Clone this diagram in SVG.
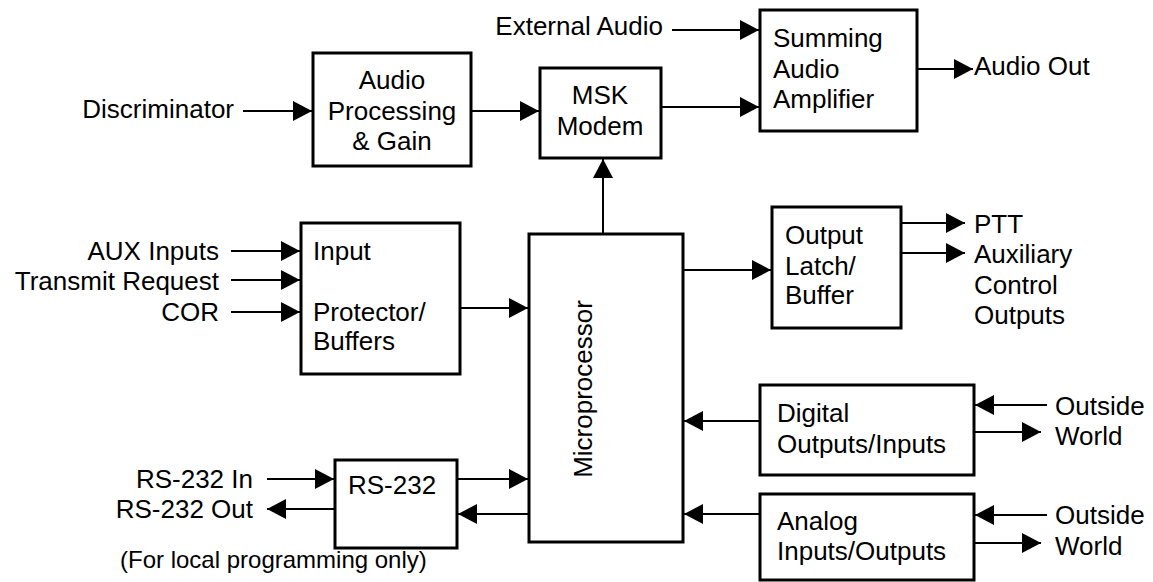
<svg xmlns="http://www.w3.org/2000/svg" width="1153" height="582" viewBox="0 0 1153 582">
  <style>
    .box { fill: #fff; stroke: #000; stroke-width: 3; }
    .wire { fill: none; stroke: #000; stroke-width: 2; marker-end: url(#arrow); }
    text { font-family: "Liberation Sans", Arial, sans-serif; font-size: 26px; fill: #000; }
    .mid { text-anchor: middle; }
    .end { text-anchor: end; }
  </style>
  <defs>
    <marker id="arrow" markerUnits="userSpaceOnUse" markerWidth="20" markerHeight="20" refX="19" refY="10" orient="auto" overflow="visible">
      <path d="M0,0 L19,10 L0,20 Z" fill="#000"/>
    </marker>
  </defs>
  <rect width="1153" height="582" fill="#fff"/>

  <!-- signal connections -->
  <g id="connectors">
    <line class="wire" x1="243" y1="111" x2="312" y2="111"/>
    <line class="wire" x1="472" y1="111" x2="539" y2="111"/>
    <line class="wire" x1="672" y1="30" x2="759" y2="30"/>
    <line class="wire" x1="661" y1="107" x2="759" y2="107"/>
    <line class="wire" x1="917" y1="69" x2="973" y2="69"/>
    <line class="wire" x1="603" y1="234" x2="603" y2="159"/>
    <line class="wire" x1="231" y1="251" x2="300" y2="251"/>
    <line class="wire" x1="231" y1="280" x2="300" y2="280"/>
    <line class="wire" x1="231" y1="312" x2="300" y2="312"/>
    <line class="wire" x1="460" y1="308" x2="528" y2="308"/>
    <line class="wire" x1="683" y1="270" x2="771" y2="270"/>
    <line class="wire" x1="901" y1="223" x2="965" y2="223"/>
    <line class="wire" x1="901" y1="253" x2="965" y2="253"/>
    <line class="wire" x1="760" y1="421" x2="684" y2="421"/>
    <line class="wire" x1="760" y1="514" x2="684" y2="514"/>
    <line class="wire" x1="1047" y1="405" x2="975" y2="405"/>
    <line class="wire" x1="974" y1="432" x2="1041" y2="432"/>
    <line class="wire" x1="1047" y1="515" x2="975" y2="515"/>
    <line class="wire" x1="974" y1="543" x2="1041" y2="543"/>
    <line class="wire" x1="267" y1="479" x2="334" y2="479"/>
    <line class="wire" x1="335" y1="509" x2="267" y2="509"/>
    <line class="wire" x1="457" y1="479" x2="528" y2="479"/>
    <line class="wire" x1="529" y1="514" x2="458" y2="514"/>
  </g>

  <!-- external signal labels -->
  <g id="labels">
    <text class="end" x="234" y="118">Discriminator</text>
    <text class="end" x="663" y="35">External Audio</text>
    <text x="974" y="75">Audio Out</text>
    <text class="end" x="219" y="260">AUX Inputs</text>
    <text class="end" x="219" y="290">Transmit Request</text>
    <text class="end" x="219" y="321">COR</text>
    <text x="974" y="233">PTT</text>
    <text x="974" y="263">Auxiliary</text>
    <text x="974" y="294">Control</text>
    <text x="974" y="324">Outputs</text>
    <text x="1055" y="415">Outside</text>
    <text x="1055" y="445">World</text>
    <text x="1055" y="524">Outside</text>
    <text x="1055" y="555">World</text>
    <text class="end" x="253" y="488">RS-232 In</text>
    <text class="end" x="253" y="518">RS-232 Out</text>
    <text x="120" y="568" style="font-size:24px">(For local programming only)</text>
  </g>

  <g id="audio-processing">
    <rect class="box" x="313" y="53" width="158" height="113"/>
    <text class="mid" x="392" y="89">Audio</text>
    <text class="mid" x="392" y="120">Processing</text>
    <text class="mid" x="392" y="150">&amp; Gain</text>
  </g>

  <g id="msk-modem">
    <rect class="box" x="540" y="68" width="121" height="90"/>
    <text class="mid" x="600" y="104">MSK</text>
    <text class="mid" x="600" y="135">Modem</text>
  </g>

  <g id="summing-amp">
    <rect class="box" x="760" y="10" width="157" height="121"/>
    <text x="773" y="47">Summing</text>
    <text x="773" y="78">Audio</text>
    <text x="773" y="108">Amplifier</text>
  </g>

  <g id="input-protector">
    <rect class="box" x="301" y="223" width="159" height="151"/>
    <text x="313" y="260">Input</text>
    <text x="313" y="321">Protector/</text>
    <text x="313" y="350">Buffers</text>
  </g>

  <g id="microprocessor">
    <rect class="box" x="529" y="234" width="154" height="308"/>
    <text class="mid" transform="translate(592,389) rotate(-90)">Microprocessor</text>
  </g>

  <g id="output-latch">
    <rect class="box" x="772" y="207" width="129" height="121"/>
    <text x="785" y="244">Output</text>
    <text x="785" y="275">Latch/</text>
    <text x="785" y="304">Buffer</text>
  </g>

  <g id="digital-io">
    <rect class="box" x="760" y="385" width="214" height="90"/>
    <text x="777" y="422">Digital</text>
    <text x="777" y="453">Outputs/Inputs</text>
  </g>

  <g id="analog-io">
    <rect class="box" x="760" y="494" width="214" height="86"/>
    <text x="777" y="530">Analog</text>
    <text x="777" y="560">Inputs/Outputs</text>
  </g>

  <g id="rs232">
    <rect class="box" x="335" y="460" width="122" height="88"/>
    <text x="348" y="494">RS-232</text>
  </g>
</svg>
